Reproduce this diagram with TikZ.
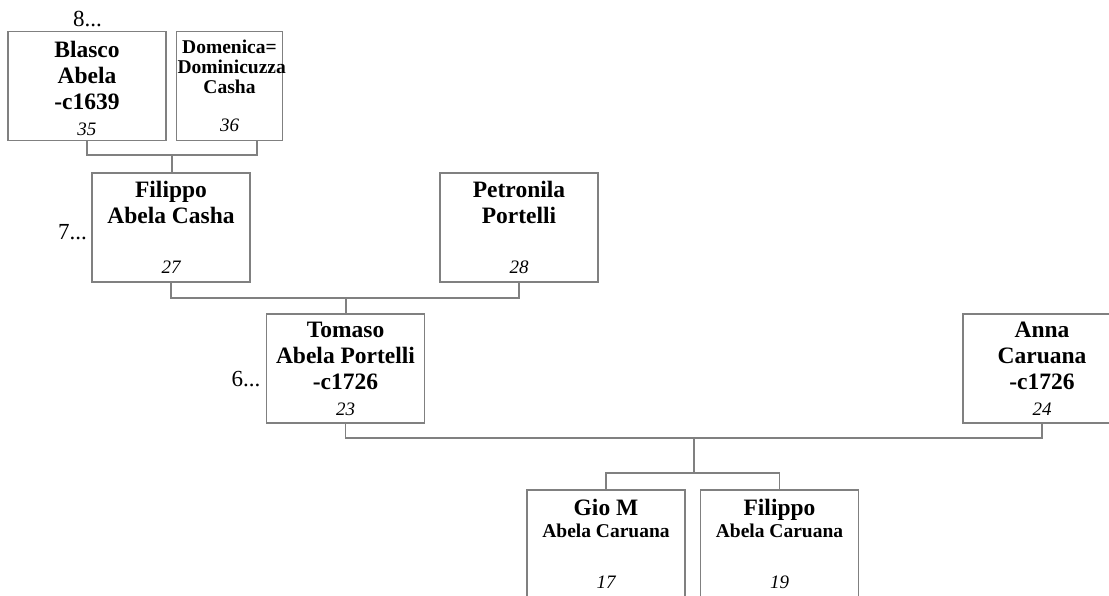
\documentclass[tikz,border=0pt]{standalone}
\usepackage{fontspec}
\setmainfont{Liberation Serif}
\newcommand\namefont{\fontsize{11.75}{13}\selectfont\bfseries}
\newcommand\subnamefont{\fontsize{9.75}{10}\selectfont\bfseries}
\newcommand\numfont{\fontsize{9.5}{11}\selectfont\mdseries\itshape}
\tikzset{
  person/.style={draw=gray, line width=0.7pt, rectangle, inner sep=0pt,
    minimum width=79pt, minimum height=54.5pt},
  link/.style={draw=gray, line width=0.7pt},
  gen/.style={inner sep=0pt, font=\fontsize{11.5}{13}\selectfont}
}
\begin{document}
\begin{tikzpicture}[x=0.5pt, y=-0.5pt]
\clip (0,0) rectangle (1109,595);
\fill[white] (0,0) rectangle (1109,595);
% generation 8
\node[gen, anchor=base] (gen8) at (87.5,26) {8...};
\node[person] (blasco) at (87,86) {\parbox[t][54.5pt][t]{78pt}{\centering\namefont
  \rule{0pt}{13pt}Blasco\\Abela\\-c1639\par\vfill{\numfont 35\rule[-4.5pt]{0pt}{0pt}}}};
\node[person, minimum width=52.8pt] (domenica) at (229.5,86) {\parbox[t][54.5pt][t]{52pt}{\centering\subnamefont
  \rule{0pt}{10.75pt}Domenica=\\Dominicuzza\\Casha\par\vfill{\numfont 36\rule[-4.5pt]{0pt}{0pt}}}};
\coordinate (domenica-c) at (257,140);
% generation 7
\node[gen, anchor=base] (gen7) at (72.5,239) {7...};
\node[person] (filippo) at (171,227.5) {\parbox[t][54.5pt][t]{78pt}{\centering\namefont
  \rule{0pt}{12pt}Filippo\\Abela Casha\par\vfill{\numfont 27\rule[-4.5pt]{0pt}{0pt}}}};
\node[person] (petronila) at (519,227.5) {\parbox[t][54.5pt][t]{78pt}{\centering\namefont
  \rule{0pt}{12pt}Petronila\\Portelli\par\vfill{\numfont 28\rule[-4.5pt]{0pt}{0pt}}}};
% generation 6
\node[gen, anchor=base] (gen6) at (246,386) {6...};
\node[person] (tomaso) at (345.5,368.5) {\parbox[t][54.5pt][t]{78pt}{\centering\namefont
  \rule{0pt}{11.5pt}Tomaso\\Abela Portelli\\-c1726\par\vfill{\numfont 23\rule[-4.5pt]{0pt}{0pt}}}};
\node[person] (anna) at (1042,368.5) {\parbox[t][54.5pt][t]{78pt}{\centering\namefont
  \rule{0pt}{11.5pt}Anna\\Caruana\\-c1726\par\vfill{\numfont 24\rule[-4.5pt]{0pt}{0pt}}}};
% children
\node[person] (gio) at (606,544.5) {\parbox[t][54.5pt][t]{78pt}{\centering\namefont
  \rule{0pt}{12.5pt}Gio M\\[-2pt]{\subnamefont Abela Caruana}\par\vfill{\numfont 17\rule[-5.5pt]{0pt}{0pt}}}};
\node[person] (filippo2) at (779.5,544.5) {\parbox[t][54.5pt][t]{78pt}{\centering\namefont
  \rule{0pt}{12.5pt}Filippo\\[-2pt]{\subnamefont Abela Caruana}\par\vfill{\numfont 19\rule[-5.5pt]{0pt}{0pt}}}};
% family lines
\coordinate (fam8) at (172,155);
\coordinate (fam7) at (346,298);
\coordinate (fam6) at (694,438);
\coordinate (kids6) at (694,473);
\draw[link] (blasco.south) |- (fam8) -| (domenica-c);
\draw[link] (fam8) -- (fam8 |- filippo.north);
\draw[link] (filippo.south) |- (fam7) -| (petronila.south);
\draw[link] (fam7) -- (fam7 |- tomaso.north);
\draw[link] (tomaso.south) |- (fam6) -| (anna.south);
\draw[link] (fam6) -- (kids6);
\draw[link] (gio.north) |- (kids6) -| (filippo2.north);
\end{tikzpicture}
\end{document}
